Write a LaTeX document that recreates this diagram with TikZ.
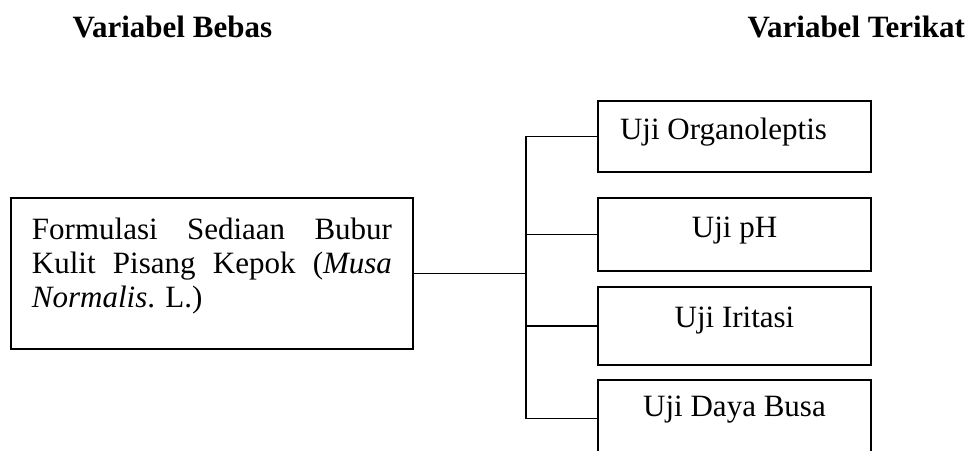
\documentclass[tikz,border=0pt]{standalone}
\usepackage{fontspec}
\setmainfont{Liberation Serif}
\usetikzlibrary{positioning}

\begin{document}
\begin{tikzpicture}[x=1bp, y=1bp, line width=1.1bp,
    every node/.style={font=\fontsize{31bp}{34bp}\selectfont, inner sep=0pt},
    header/.style={anchor=base west, font=\fontsize{31bp}{34bp}\selectfont\bfseries},
    ujibox/.style 2 args={draw, minimum width=273bp, text height=#1, text depth=#2}]

  \useasboundingbox (0,0) rectangle (979,451);
  \clip (0,0) rectangle (979,451);

  % Headers
  \node[header] (bebas) at (72,413) {Variabel Bebas};
  \node[header] (terikat) at (747,413) {Variabel Terikat};

  % Variabel bebas
  \node[draw, minimum width=402bp, minimum height=151bp] (formula) at (212,177.5) {};
  \node[below right=19.5bp and 21bp of formula.north west, text width=360bp, align=justify]
      (formulatext) {Formulasi Sediaan Bubur\linebreak Kulit Pisang Kepok (\textit{Musa}\linebreak
      \textit{Normalis}. L.)};

  % Variabel terikat
  \node[ujibox={39bp}{32bp}, text width=229bp, align=flush left] (organo) at (734.5,314.5) {Uji Organoleptis};
  \node[ujibox={40bp}{33bp}] (ph) at (734.5,216.5) {Uji pH};
  \node[ujibox={41bp}{37bp}] (iritasi) at (734.5,125) {Uji Iritasi};
  \node[ujibox={37bp}{40bp}] (busa) at (734.5,32.5) {Uji Daya Busa};

  % Connectors
  \coordinate (hub) at (526,0);
  \draw (formula.east) -- (hub |- formula.east);
  \draw (organo.west) -- (hub |- organo.west) -- (hub |- busa.west) -- (busa.west);
  \foreach \n in {ph, iritasi}
    \draw (hub |- \n.west) -- (\n.west);

\end{tikzpicture}
\end{document}
